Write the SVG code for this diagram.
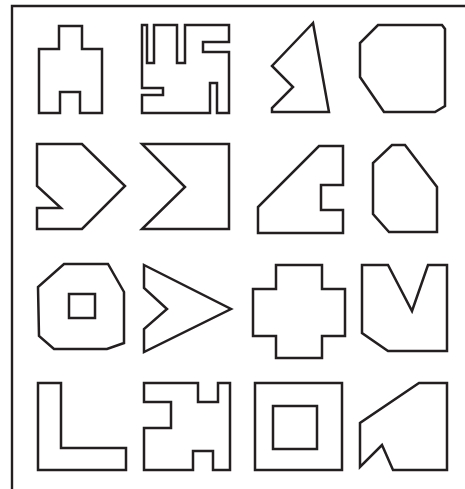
<svg xmlns="http://www.w3.org/2000/svg" width="465" height="489" viewBox="0 0 465 489">
<style>
.s{fill:none;stroke:#231f20;stroke-width:2.5;stroke-linejoin:miter}
.f{fill:none;stroke:#231f20;stroke-width:2.4}
</style>
<rect width="465" height="489" fill="#fff"/>
<g id="frame"><path class="f" d="M12,489 V6 H465"/></g>
<g id="shape1"><polygon class="s" points="59,26 82,26 82,49 102,49 102,113 80,113 80,92 60,92 60,113 39,113 39,49 59,49"/></g>
<g id="shape2"><polygon class="s" points="142,25 147,25 147,63 154,63 154,25 177,25 177,63 185,63 185,25 229,25 229,42 203,42 203,52 229,52 229,113 217,113 217,83 210,83 210,113 142,113 142,95 163,95 163,88 142,88"/></g>
<g id="shape3"><polygon class="s" points="313,23 272,66 293,87 272,108 272,112 329,112"/></g>
<g id="shape4"><polygon class="s" points="378,25 442,25 445,29 445,106 435,112 384,112 360,77 360,43"/></g>
<g id="shape5"><polygon class="s" points="37,144 82,144 125,186 82,229 37,229 37,208 61,208 37,186"/></g>
<g id="shape6"><polygon class="s" points="142,144 229,144 229,229 142,229 185,187"/></g>
<g id="shape7"><polygon class="s" points="319,146 343,146 343,185 321,185 321,210 343,210 343,233 258,233 258,207"/></g>
<g id="shape8"><polygon class="s" points="392,145 405,145 437,187 437,232 389,232 373,214 373,163"/></g>
<g id="shape9"><polygon class="s" points="64,264 108,264 124,292 124,343 107,349 54,349 39,336 38,287"/><rect class="s" x="69" y="294" width="26" height="24"/></g>
<g id="shape10"><polygon class="s" points="144,265 231,309 144,352 144,329 167,309 144,288"/></g>
<g id="shape11"><polygon class="s" points="276,265 322,265 322,289 345,289 345,336 322,336 322,358 276,358 276,336 253,336 253,289 276,289"/></g>
<g id="shape12"><polygon class="s" points="362,265 388,265 412,311 428,265 447,265 447,351 388,351 362,333"/></g>
<g id="shape13"><polygon class="s" points="38,383 61,383 61,448 126,448 126,470 38,470"/></g>
<g id="shape14"><polygon class="s" points="144,383 198,383 198,402 218,402 218,383 230,383 230,470 213,470 213,451 193,451 193,470 144,470 144,428 171,428 171,402 144,402"/></g>
<g id="shape15"><rect class="s" x="255" y="383" width="87" height="87"/><rect class="s" x="273" y="406" width="44" height="43"/></g>
<g id="shape16"><polygon class="s" points="419,383 447,383 447,470 393,470 382,445 360,467 360,423"/></g>
</svg>
